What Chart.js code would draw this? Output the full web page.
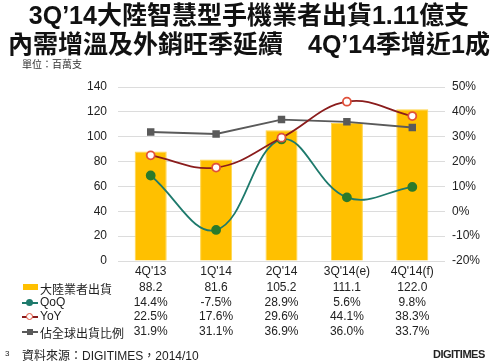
<!DOCTYPE html>
<html>
<head>
<meta charset="utf-8">
<script src="https://cdn.jsdelivr.net/npm/chart.js@4"></script>
<style>
    body { margin: 0; background: #fff; font-family: "Liberation Sans", "Noto Sans CJK TC", sans-serif; color: #222; }
    #wrap { position: relative; width: 498px; height: 363px; overflow: hidden; }
    #myChart { position: absolute; left: 0; top: 0; }
    .t { position: absolute; white-space: nowrap; }
    .title { font-weight: bold; font-size: 25px; line-height: 27px; color: #111; left: 0; width: 498px; text-align: center; }
    .cell { position: absolute; font-size: 12px; width: 64px; margin-left: -32px; text-align: center; }
    .lbl { position: absolute; left: 40px; font-size: 12px; }
</style>
</head>
<body>
<div id="wrap">
    <canvas id="myChart" width="498" height="363"></canvas>
    <div class="t title" style="top: 2px;">3Q’14大陸智慧型手機業者出貨1.11億支</div>
    <div class="t title" style="top: 31px;">內需增溫及外銷旺季延續　4Q’14季增近1成</div>
    <div class="t" style="left: 22px; top: 60px; font-size: 10px; line-height: 10px; color: #333;">單位：百萬支</div>
    <div id="table"></div>
    <div class="t" style="left: 5px; top: 349px; font-size: 8px;">3</div>
    <div class="t" style="left: 22px; top: 346px; font-size: 12px;">資料來源：DIGITIMES，2014/10</div>
    <div class="t" style="left: 433px; top: 348px; font-size: 11px; font-weight: bold; letter-spacing: -0.5px;">DIGITIMES</div>
</div>
<script>
const quarters = ["4Q'13", "1Q'14", "2Q'14", "3Q'14(e)", "4Q'14(f)"];
const shipments = [88.2, 81.6, 105.2, 111.1, 122.0];
const qoq = [14.4, -7.5, 28.9, 5.6, 9.8];
const yoy = [22.5, 17.6, 29.6, 44.1, 38.3];
const share = [31.9, 31.1, 36.9, 36.0, 33.7];

const seriesNames = ["大陸業者出貨", "QoQ", "YoY", "佔全球出貨比例"];

const barColor = "#FFC000";
const qoqLine = "#1E7A6C";
const qoqPoint = "#2B7A2B";
const yoyLine = "#8A1C1C";
const yoyPoint = "#E0503A";
const shareColor = "#5A5A5A";

// Column centres follow the x scale, filled in after the chart lays out
function buildTable(chart) {
    const xScale = chart.scales.x;
    const rows = [
        shipments.map(v => v.toFixed(1)),
        qoq.map(v => v.toFixed(1) + "%"),
        yoy.map(v => v.toFixed(1) + "%"),
        share.map(v => v.toFixed(1) + "%")
    ];
    const rowTops = [280, 295, 309, 324];
    const markers = [
        `<span style="position:absolute;left:23px;top:4px;width:15px;height:6px;background:${barColor}"></span>`,
        `<span style="position:absolute;left:22px;top:7px;width:16px;height:2px;background:${qoqLine}"></span><span style="position:absolute;left:26px;top:4px;width:7px;height:7px;border-radius:50%;background:${qoqLine}"></span>`,
        `<span style="position:absolute;left:22px;top:7px;width:16px;height:2px;background:${yoyLine}"></span><span style="position:absolute;left:26px;top:4px;width:5px;height:5px;border-radius:50%;background:#fff;border:1.5px solid ${yoyPoint}"></span>`,
        `<span style="position:absolute;left:22px;top:7px;width:16px;height:2px;background:${shareColor}"></span><span style="position:absolute;left:27px;top:5px;width:6px;height:6px;background:${shareColor}"></span>`
    ];
    let html = "";
    rows.forEach((row, i) => {
        html += `<div style="position:absolute;left:0;top:${rowTops[i]}px;width:498px;height:15px">`;
        html += markers[i];
        html += `<span class="lbl">${seriesNames[i]}</span>`;
        row.forEach((txt, j) => {
            const x = xScale.getPixelForValue(j);
            html += `<span class="cell" style="left:${x}px">${txt}</span>`;
        });
        html += `</div>`;
    });
    document.querySelector("#table").innerHTML = html;
}

const ctx = document.getElementById("myChart").getContext("2d");

const myChart = new Chart(ctx, {
    data: {
        labels: quarters,
        datasets: [
            {
                type: "line",
                label: seriesNames[2],
                data: yoy,
                yAxisID: "y1",
                borderColor: yoyLine,
                borderWidth: 1.8,
                tension: 0.4,
                pointRadius: 4,
                pointBackgroundColor: "#fff",
                pointBorderColor: yoyPoint,
                pointBorderWidth: 1.8,
                order: 1
            },
            {
                type: "line",
                label: seriesNames[1],
                data: qoq,
                yAxisID: "y1",
                borderColor: qoqLine,
                borderWidth: 1.8,
                tension: 0.4,
                pointRadius: 4,
                pointBackgroundColor: qoqPoint,
                pointBorderColor: qoqPoint,
                order: 2
            },
            {
                type: "line",
                label: seriesNames[3],
                data: share,
                yAxisID: "y1",
                borderColor: shareColor,
                borderWidth: 1.8,
                tension: 0,
                pointStyle: "rect",
                pointRadius: 4,
                pointBackgroundColor: shareColor,
                pointBorderColor: shareColor,
                order: 3
            },
            {
                type: "bar",
                label: seriesNames[0],
                data: shipments,
                yAxisID: "y",
                backgroundColor: barColor,
                borderColor: "#FFD54A",
                borderWidth: 1,
                barPercentage: 0.49,
                categoryPercentage: 1,
                order: 4
            }
        ]
    },
    options: {
        responsive: false,
        animation: false,
        layout: { padding: { top: 87, bottom: 84, left: 0, right: 0 } },
        plugins: {
            legend: { display: false },
            tooltip: { enabled: false }
        },
        scales: {
            x: {
                grid: { display: false, drawTicks: false },
                border: { display: false },
                ticks: { color: "#222", font: { size: 12, family: "Liberation Sans" }, padding: 3, maxRotation: 0 },
                afterFit: scale => { scale.height = 18; }
            },
            y: {
                position: "left",
                min: 0,
                max: 140,
                ticks: { stepSize: 20, color: "#222", font: { size: 12, family: "Liberation Sans" }, padding: 11 },
                grid: { color: "#DCDCDC", lineWidth: 1, drawTicks: false },
                border: { display: false },
                afterFit: scale => { scale.width = 118; }
            },
            y1: {
                position: "right",
                min: -20,
                max: 50,
                ticks: {
                    stepSize: 10,
                    color: "#222",
                    font: { size: 12, family: "Liberation Sans" },
                    padding: 7,
                    callback: v => v + "%"
                },
                grid: { display: false, drawTicks: false },
                border: { display: false },
                afterFit: scale => { scale.width = 53; }
            }
        }
    }
});

buildTable(myChart);
</script>
</body>
</html>
